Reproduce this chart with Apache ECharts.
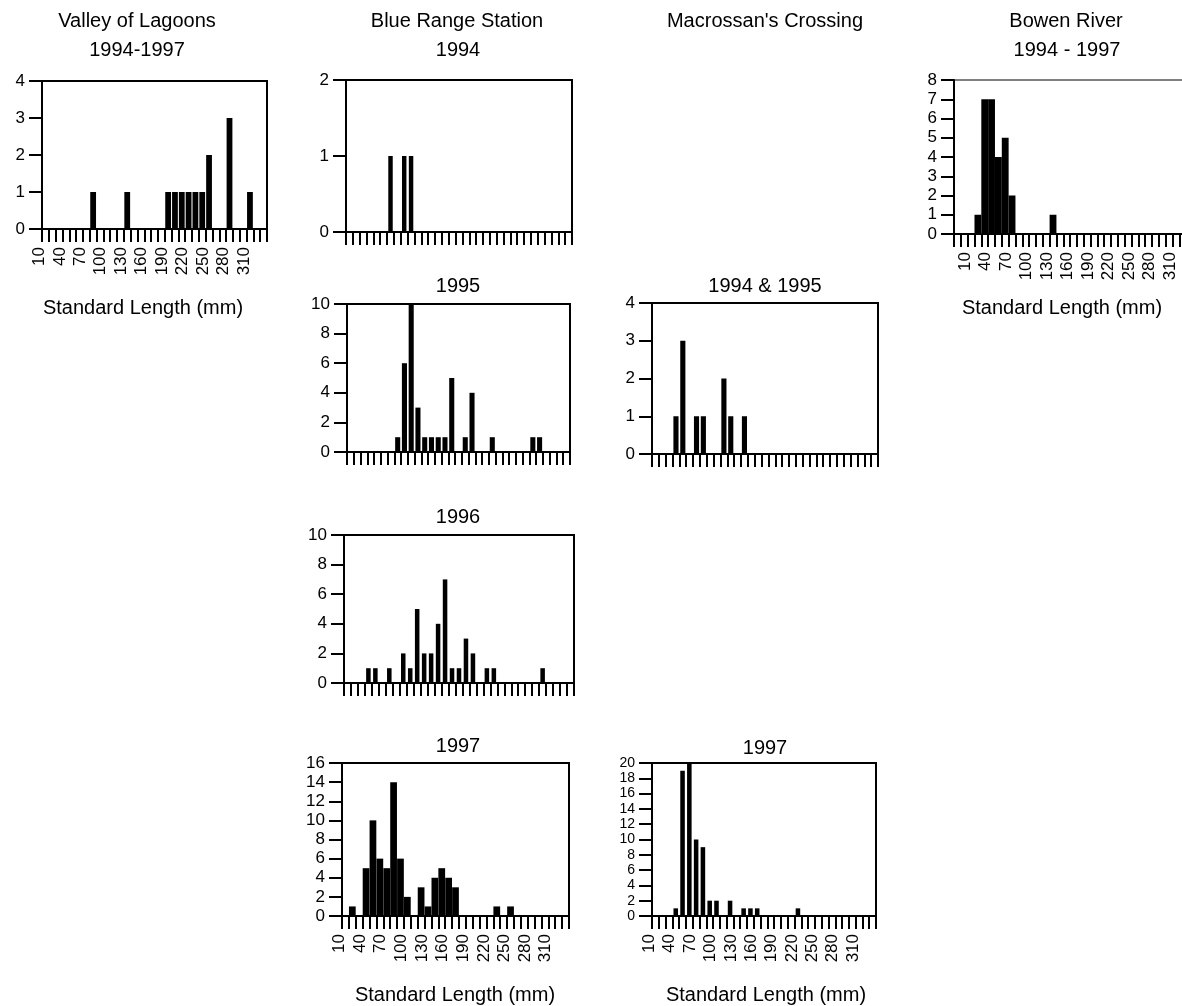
<!DOCTYPE html>
<html>
<head>
<meta charset="utf-8">
<title>Standard length frequencies</title>
<script src="https://cdn.jsdelivr.net/npm/echarts@6/dist/echarts.min.js"></script>
<style>
  html, body { margin: 0; padding: 0; background: #fff; }
  #chart { width: 1182px; height: 1006px; }
</style>
</head>
<body>
<div id="chart"></div>
<script>
// length classes (mm), one every 10 mm
const bins = ['10', '20', '30', '40', '50', '60', '70', '80', '90', '100', '110',
  '120', '130', '140', '150', '160', '170', '180', '190', '200', '210', '220',
  '230', '240', '250', '260', '270', '280', '290', '300', '310', '320', '330'];
// Bowen River axis starts two empty classes earlier
const bowenBins = ['', ' '].concat(bins);

// counts per length class
const valleyLen = [80, 130, 190, 200, 210, 220, 230, 240, 250, 280, 310];
const valleyN = [1, 1, 1, 1, 1, 1, 1, 1, 2, 3, 1];

const br94Len = [70, 90, 100];
const br94N = [1, 1, 1];

const br95Len = [80, 90, 100, 110, 120, 130, 140, 150, 160, 180, 190, 220, 280, 290];
const br95N = [1, 6, 10, 3, 1, 1, 1, 1, 5, 1, 4, 1, 1, 1];

const br96Len = [40, 50, 70, 90, 100, 110, 120, 130, 140, 150, 160, 170, 180, 190, 210, 220, 290];
const br96N = [1, 1, 1, 2, 1, 5, 2, 2, 4, 7, 1, 1, 3, 2, 1, 1, 1];

const br97Len = [20, 40, 50, 60, 70, 80, 90, 100, 120, 130, 140, 150, 160, 170, 230, 250];
const br97N = [1, 5, 10, 6, 5, 14, 6, 2, 3, 1, 4, 5, 4, 3, 1, 1];

const mac9495Len = [40, 50, 70, 80, 110, 120, 140];
const mac9495N = [1, 3, 1, 1, 2, 1, 1];

const mac97Len = [40, 50, 60, 70, 80, 90, 100, 120, 140, 150, 160, 220];
const mac97N = [1, 19, 20, 10, 9, 2, 2, 2, 1, 1, 1, 1];

const bowenLen = [20, 30, 40, 50, 60, 70, 130];
const bowenN = [1, 7, 7, 4, 5, 2, 1];

const FONT = '"Liberation Sans", Arial, Helvetica, sans-serif';

// panel layout: box = [left, top, width, height]
const panels = [
  { len: valleyLen, n: valleyN, cats: bins, box: [42, 81, 225, 148], max: 4, step: 1, gap: '15%', labels: true },
  { len: br94Len, n: br94N, cats: bins, box: [346, 80, 226, 152], max: 2, step: 1, gap: '35%' },
  { len: bowenLen, n: bowenN, cats: bowenBins, box: [954, 80, 239, 154], max: 8, step: 1, gap: '0%', labels: true, thin: true },
  { len: br95Len, n: br95N, cats: bins, box: [347, 304, 223, 148], max: 10, step: 2, gap: '25%' },
  { len: mac9495Len, n: mac9495N, cats: bins, box: [652, 303, 226, 151], max: 4, step: 1, gap: '25%' },
  { len: br96Len, n: br96N, cats: bins, box: [344, 535, 230, 148], max: 10, step: 2, gap: '35%' },
  { len: br97Len, n: br97N, cats: bins, box: [342, 763, 227, 153], max: 16, step: 2, gap: '2%', labels: true },
  { len: mac97Len, n: mac97N, cats: bins, box: [652, 763, 224, 153], max: 20, step: 2, gap: '33%', labels: true, yFont: 14 }
];

// titles and axis names: [text, x, y]
const texts = [
  ['Valley of Lagoons', 137, 21], ['1994-1997', 137, 50],
  ['Blue Range Station', 457, 21], ['1994', 458, 50],
  ["Macrossan's Crossing", 765, 21],
  ['Bowen River', 1066, 21], ['1994 - 1997', 1067, 50],
  ['1995', 458, 286], ['1994 & 1995', 765, 286],
  ['1996', 458, 517],
  ['1997', 458, 746], ['1997', 765, 748],
  ['Standard Length (mm)', 143, 308], ['Standard Length (mm)', 1062, 308],
  ['Standard Length (mm)', 455, 995], ['Standard Length (mm)', 766, 995]
];

let chart = echarts.init(document.getElementById('chart'), null, { renderer: 'canvas' });

let grids = [], xAxes = [], yAxes = [], series = [];

panels.forEach(function (p, i) {
  grids.push({
    left: p.box[0], top: p.box[1], width: p.box[2], height: p.box[3],
    containLabel: false,
    outerBoundsMode: 'none',
    show: true,
    borderColor: '#000',
    borderWidth: p.thin ? 1 : 2,
    backgroundColor: 'transparent'
  });

  let first = p.cats.indexOf('10');
  xAxes.push({
    gridIndex: i,
    type: 'category',
    data: p.cats,
    boundaryGap: true,
    axisLine: { show: true, lineStyle: { color: '#000', width: 2 } },
    axisTick: { show: true, interval: 0, length: 13, lineStyle: { color: '#000', width: 2 } },
    axisLabel: {
      show: !!p.labels,
      interval: function (idx) { return idx >= first && (idx - first) % 3 === 0; },
      rotate: 90,
      margin: 18,
      color: '#000',
      fontSize: 17,
      lineHeight: 12,
      verticalAlign: 'bottom',
      fontFamily: FONT
    },
    splitLine: { show: false }
  });

  yAxes.push({
    gridIndex: i,
    type: 'value',
    min: 0,
    max: p.max,
    interval: p.step,
    axisLine: { show: true, lineStyle: { color: '#000', width: 2 } },
    axisTick: { show: true, length: 13, lineStyle: { color: '#000', width: 2 } },
    axisLabel: {
      color: '#000', fontSize: p.yFont || 17, lineHeight: p.yFont || 17, margin: 17, fontFamily: FONT,
      showMinLabel: true, showMaxLabel: true, hideOverlap: false
    },
    splitLine: { show: false }
  });

  series.push({
    type: 'bar',
    xAxisIndex: i,
    yAxisIndex: i,
    barCategoryGap: p.gap,
    itemStyle: { color: '#000' },
    data: p.len.map(function (v, k) { return [String(v), p.n[k]]; })
  });
});

let option = {
  animation: false,
  backgroundColor: '#fff',
  grid: grids,
  xAxis: xAxes,
  yAxis: yAxes,
  series: series,
  graphic: texts.map(function (t) {
    return {
      type: 'text',
      x: t[1],
      y: t[2],
      style: {
        text: t[0],
        fill: '#000',
        font: '20px ' + FONT,
        align: 'center',
        verticalAlign: 'middle'
      }
    };
  })
};

chart.setOption(option);
</script>
</body>
</html>
